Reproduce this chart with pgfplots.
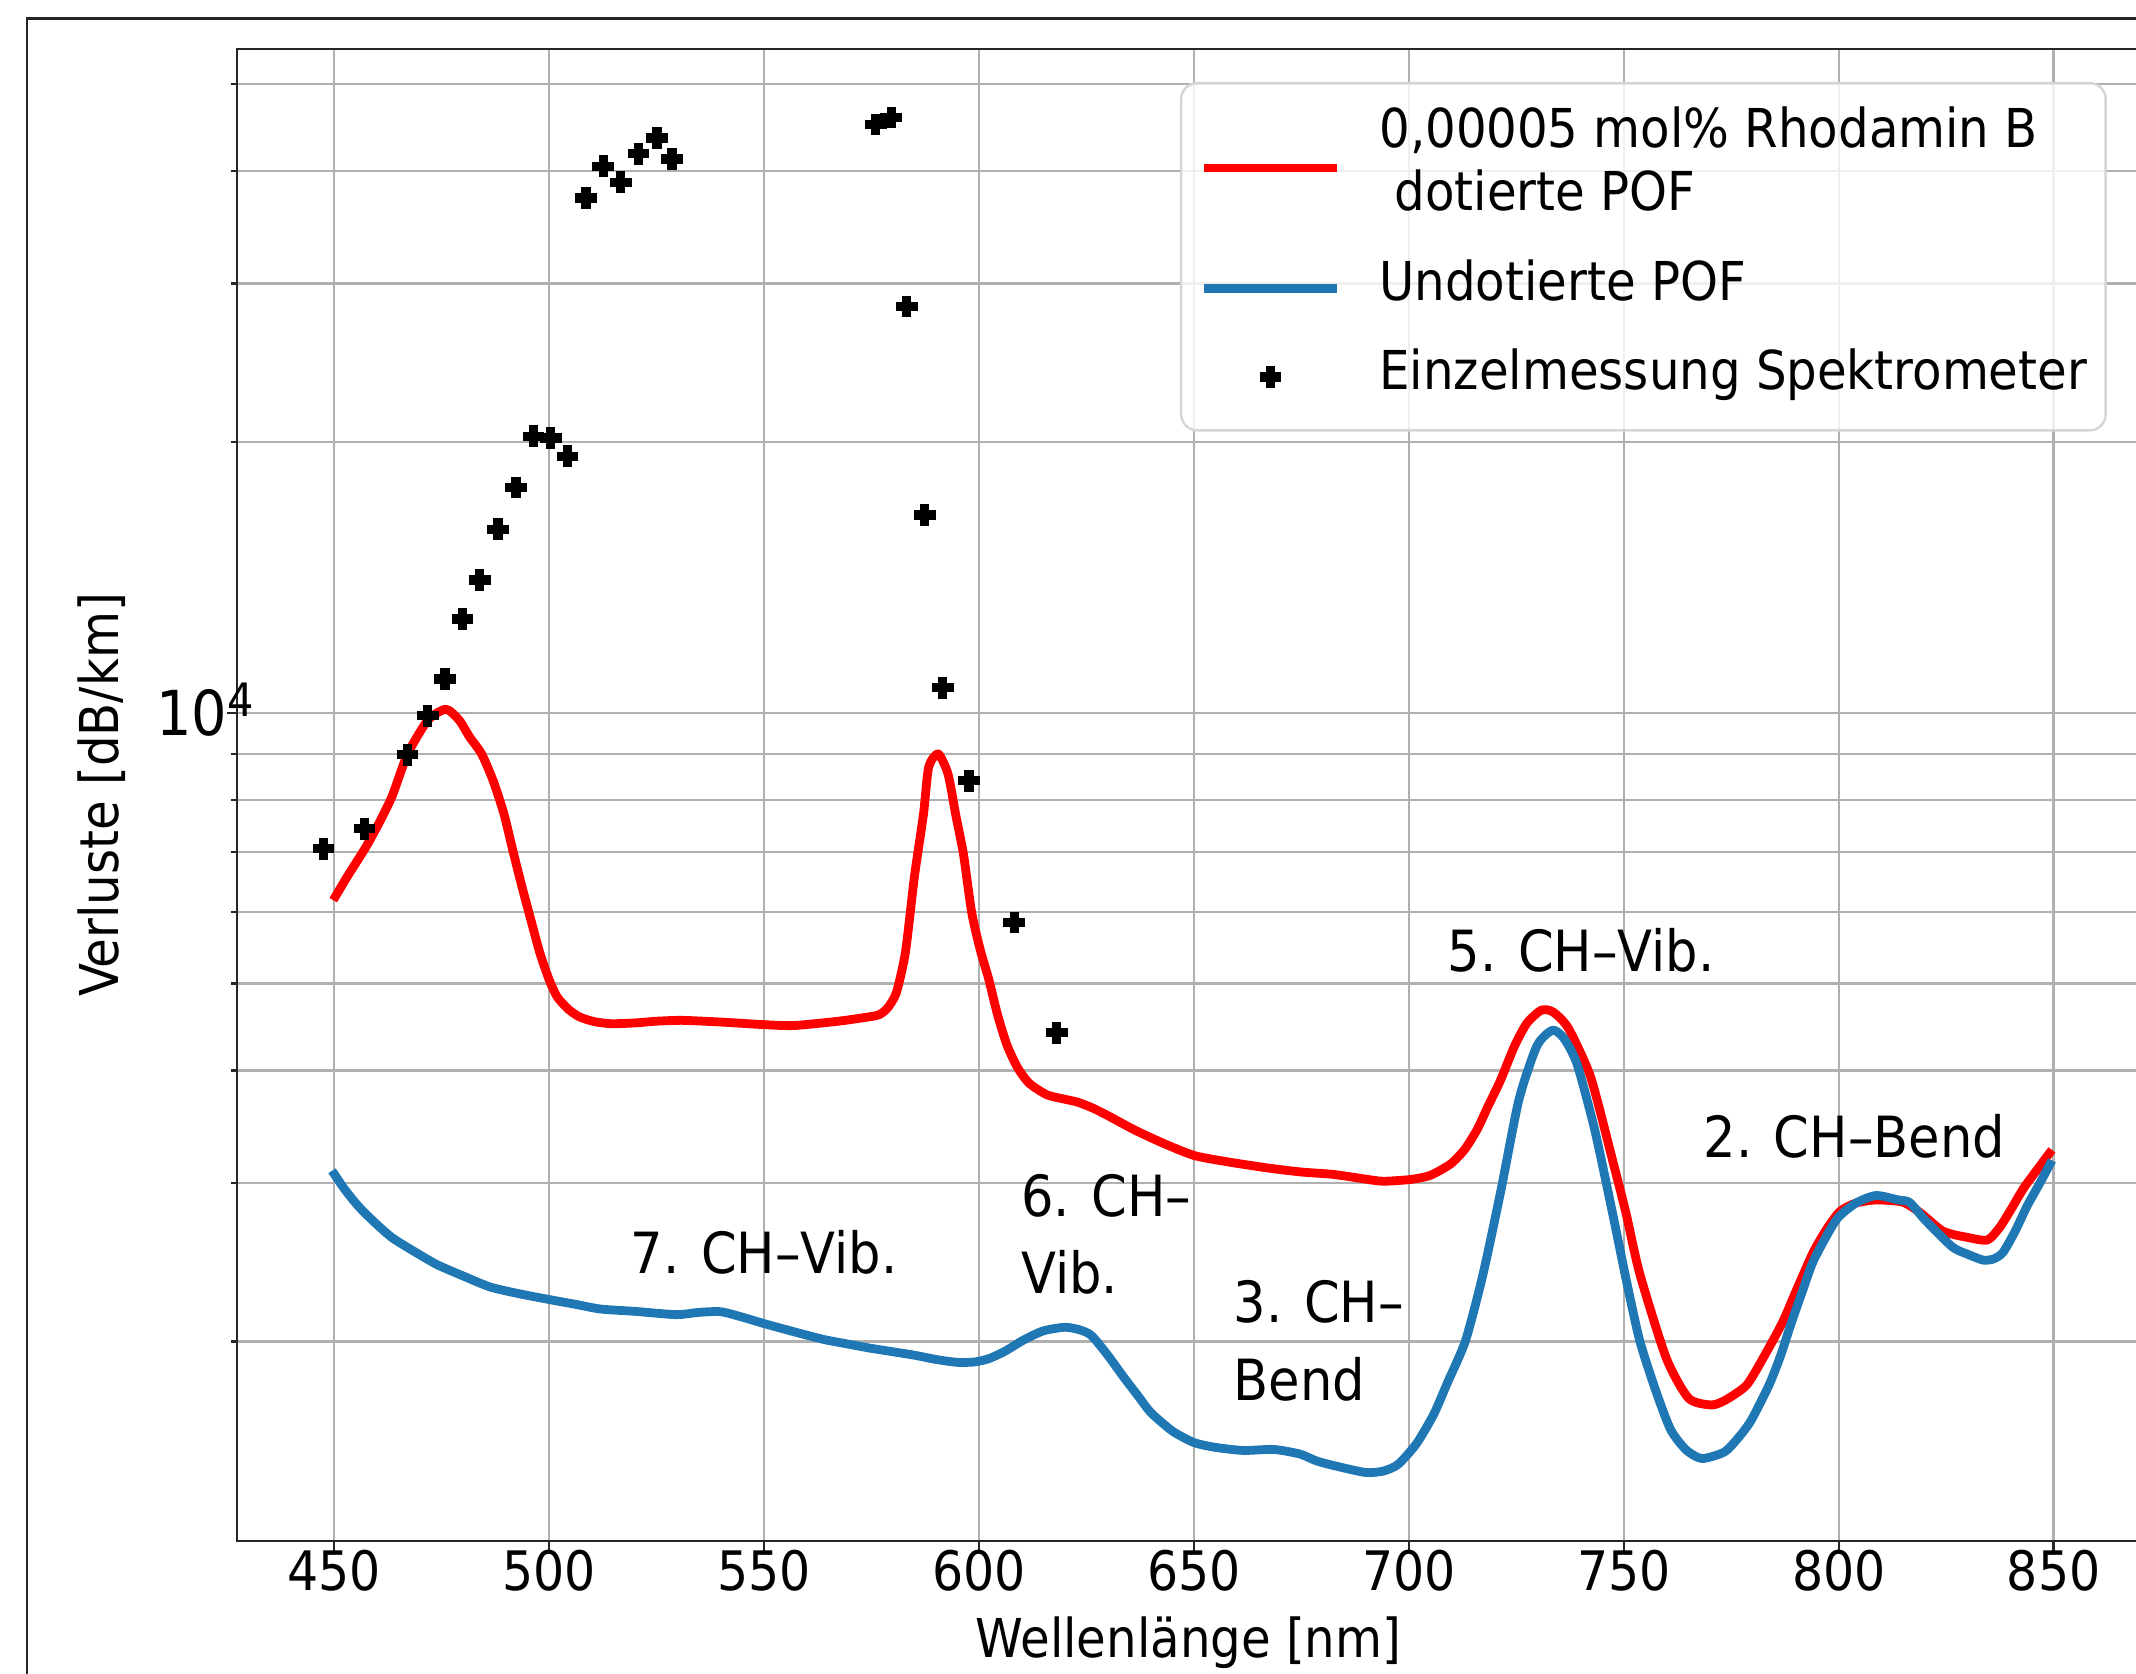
\documentclass[border=0pt]{standalone}
\usepackage{fontspec}
\setmainfont{DejaVu Sans Condensed}
\usepackage{pgfplots}
\pgfplotsset{compat=1.18}

\definecolor{mplred}{HTML}{FF0000}
\definecolor{mplblue}{HTML}{1F77B4}
\definecolor{gridgray}{HTML}{B0B0B0}
\definecolor{legedge}{HTML}{D5D5D5}

\newcommand{\ticksize}{\fontsize{13.6pt}{16pt}\selectfont}
\newcommand{\labsize}{\fontsize{13.4pt}{16pt}\selectfont}
\newcommand{\legsize}{\fontsize{13.4pt}{15.7pt}\selectfont}
\newcommand{\annsize}{\fontsize{14.2pt}{19.4pt}\selectfont}

% measured loss spectra (dB/km) over wavelength (nm)
\pgfplotstableread{
x y
449.8 6190
453.1 6580
457.3 7080
460.5 7550
463.5 8080
467.1 9000
471.8 9810
476.0 10090
479.1 9810
481.5 9400
484.3 9000
487.0 8400
489.5 7720
491.5 7050
493.6 6430
495.7 5900
497.8 5418
500.0 5050
501.9 4830
504.5 4680
507.1 4590
510.5 4535
514.4 4511
520.0 4520
525.0 4540
531.0 4550
540.0 4530
550.0 4500
557.0 4490
567.3 4540
573.0 4580
576.7 4614
578.8 4700
580.8 4887
582.9 5418
585.0 6580
587.1 7720
588.3 8700
590.5 9000
592.8 8550
594.6 7700
596.4 6960
598.3 6000
600.3 5450
602.3 5050
604.3 4620
606.5 4273
609.0 4030
611.7 3873
615.8 3761
620.0 3718
623.0 3690
626.5 3635
630.0 3565
636.3 3435
643.0 3320
650.0 3220
657.4 3170
667.0 3119
675.0 3086
682.5 3067
690.0 3030
694.1 3014
700.5 3028
705.0 3060
709.7 3150
713.0 3270
715.9 3441
718.4 3650
721.3 3900
724.6 4262
727.5 4520
730.8 4669
733.5 4650
737.1 4460
742.3 3934
747.5 3166
750.5 2780
753.7 2380
759.9 1916
765.1 1729
770.5 1700
774.0 1725
778.6 1789
782.5 1920
786.9 2099
790.5 2300
794.2 2520
797.5 2680
800.4 2793
804.0 2850
808.7 2873
814.9 2857
819.0 2780
824.3 2652
830.0 2610
834.6 2593
837.5 2680
840.0 2800
843.0 2960
846.5 3120
849.6 3266
}\dotiert

\pgfplotstableread{
x y
449.5 3096
452.5 2950
455.7 2825
459.5 2710
463.5 2608
468.5 2520
473.9 2435
480.0 2365
486.3 2299
493.0 2260
499.9 2227
506.0 2200
512.0 2173
520.0 2160
529.6 2142
535.0 2155
540.0 2158
545.0 2128
550.4 2091
557.0 2050
563.9 2010
570.0 1985
575.0 1965
584.7 1932
590.0 1910
595.0 1896
599.0 1898
602.3 1914
606.0 1950
610.6 2010
615.0 2055
620.0 2074
623.5 2060
626.2 2030
630.0 1930
633.5 1830
637.0 1740
640.0 1667
645.0 1590
650.0 1544
655.0 1525
661.5 1513
668.6 1517
674.7 1499
678.7 1472
684.0 1450
690.0 1430
694.0 1435
697.5 1460
701.8 1540
705.8 1660
709.0 1800
713.2 2005
717.3 2380
721.5 2957
725.6 3712
729.8 4262
733.4 4436
736.0 4350
739.1 4073
743.3 3429
747.5 2761
750.5 2350
753.7 2005
757.5 1760
760.9 1596
764.5 1515
768.2 1482
773.4 1507
776.5 1560
779.6 1633
783.8 1789
786.5 1930
789.0 2099
791.5 2270
794.2 2463
799.4 2729
804.0 2850
808.7 2906
813.9 2873
816.5 2855
820.1 2729
826.4 2548
830.0 2500
833.6 2463
836.0 2470
838.2 2511
841.0 2650
843.9 2833
846.8 3000
849.6 3179
}\undotiert

\pgfplotstableread{
x y
447.5 7060
457.1 7430
467.1 8980
471.8 9920
475.8 10900
479.9 12710
483.9 14050
488.1 16000
492.3 17800
496.4 20300
500.4 20200
504.3 19280
508.6 37350
512.6 40520
516.7 38900
520.8 41820
525.1 43550
528.6 41270
576.0 45060
579.6 45880
583.2 28300
587.4 16590
591.6 10660
597.7 8400
608.2 5848
618.1 4407
}\spektrometer

\begin{document}
\begin{tikzpicture}
% frame around the figure, cut off on the right and at the bottom
\draw[line width=0.7pt, black!85] (-52.5pt,-60pt) rectangle (540pt,380.6pt);

\begin{semilogyaxis}[
  scale only axis, width=475.75pt, height=373pt,
  xmin=427.4, xmax=870.1, ymin=1200, ymax=54700,
  xtick={450,500,...,850},
  ytick={10000},
  yticklabels={{\fontsize{15.5pt}{18pt}\selectfont 10\raisebox{4.7pt}[0pt][0pt]{\fontsize{11.5pt}{13pt}\selectfont 4}}},
  minor ytick={2000,3000,4000,5000,6000,7000,8000,9000,20000,30000,40000,50000},
  xmajorgrids, ymajorgrids, yminorgrids,
  grid style={draw=gridgray, line width=0.6pt},
  minor grid style={draw=gridgray, line width=0.6pt},
  major grid style={draw=gridgray, line width=0.6pt},
  tick align=outside, tick pos=left,
  major tick length=2.6pt, minor tick length=1.6pt,
  tick style={black!85, line width=0.6pt},
  axis line style={line width=0.6pt, black!85},
  /pgf/number format/assume math mode=true,
  ticklabel style={font=\ticksize},
  xticklabel style={inner sep=0pt, anchor=north, yshift=0.6pt},
  yticklabel style={inner sep=0pt, anchor=east, xshift=7.0pt},
  xlabel={Wellenlänge [nm]}, ylabel={Verluste [dB/km]},
  label style={font=\labsize},
  xlabel style={at={(axis description cs:0.5,-0.068)}, anchor=center},
  ylabel style={at={(axis description cs:-0.0709,0.5)}, anchor=center},
  legend cell align=left,
  legend image code/.code={\draw[mark repeat=2,mark phase=2,#1] plot coordinates {(0pt,0pt) (16.6pt,0pt) (33.2pt,0pt)};},
  legend style={
    at={(rel axis cs:0.4955,0.9779)}, anchor=north west,
    draw=legedge, line width=0.6pt, rounded corners=4pt,
    fill=white, fill opacity=0.8, text opacity=1,
    inner xsep=4.65pt, inner ysep=5.5pt,
    font=\legsize, row sep=6.5pt,
    nodes={inner sep=0pt},
    /tikz/every odd column/.append style={column sep=9.5pt},
  },
]
\addplot[mplred, line width=2.2pt, line join=round, smooth, tension=0.4] table {\dotiert};
\addlegendentry[text height=19pt, text depth=12.4pt]{\begin{tabular}{@{}l@{}}0,00005 mol\% Rhodamin B\\\ dotierte POF\end{tabular}}
\addplot[mplblue, line width=2.2pt, line join=round, smooth, tension=0.4] table {\undotiert};
\addlegendentry[text height=11pt, text depth=4.7pt]{Undotierte POF}
\addplot[black, only marks, mark=+, mark size=2.7pt,
  mark options={line width=2.3pt, line cap=butt}] table {\spektrometer};
\addlegendentry[text height=11pt, text depth=4.7pt]{Einzelmessung Spektrometer}

\node[anchor=west, inner sep=0pt, font=\annsize] at (axis cs:708.9,5444) {5. CH--Vib.};
\node[anchor=west, inner sep=0pt, font=\annsize] at (axis cs:768.4,3382) {2. CH--Bend};
\node[anchor=west, inner sep=0pt, font=\annsize, align=left] at (axis cs:609.7,2630) {6. CH--\\Vib.};
\node[anchor=west, inner sep=0pt, font=\annsize] at (axis cs:518.8,2510) {7. CH--Vib.};
\node[anchor=west, inner sep=0pt, font=\annsize, align=left] at (axis cs:659.1,2002) {3. CH--\\Bend};
\end{semilogyaxis}

\pgfresetboundingbox
\path (-59.25pt,-33pt) rectangle (474.75pt,385.25pt);
\end{tikzpicture}
\end{document}
